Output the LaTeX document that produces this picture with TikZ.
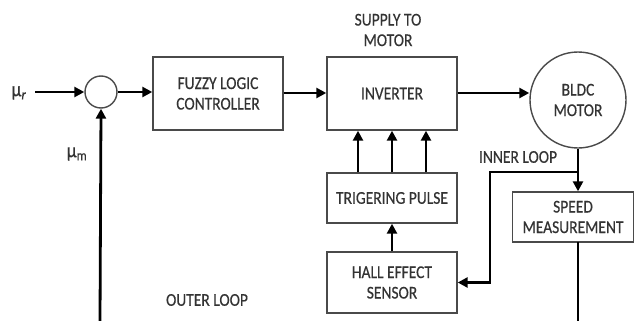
\documentclass[tikz,border=0pt]{standalone}
\usepackage{fontspec}
\setmainfont{Carlito}[FakeStretch=0.86,FakeBold=0.4]
\usetikzlibrary{arrows.meta}
\definecolor{txt}{HTML}{333333}
\definecolor{frame}{HTML}{4A4A4A}
\begin{document}
\begin{tikzpicture}[x=1pt,y=-1pt,
  every node/.style={text=txt,font=\fontsize{18}{20.5}\selectfont,align=center,inner sep=0pt},
  blk/.style={draw=frame,line width=1.4pt,rectangle,fill=white},
  circ/.style={draw=frame,line width=1.4pt,circle},
  greek/.style={font=\fontsize{21}{22}\selectfont},
  con/.style={line width=2.8pt,-{Triangle[length=10pt,width=10pt]}},
  ln/.style={line width=2.8pt}]
\useasboundingbox[fill=white] (0,0) rectangle (634,321);
% blocks
\node[circ,minimum size=32pt] (sum) at (101,92) {};
\node[blk,minimum width=130pt,minimum height=73pt] (flc) at (218,93.5) {FUZZY LOGIC\\CONTROLLER};
\node[blk,minimum width=130pt,minimum height=73pt] (inv) at (392,93.5) {INVERTER};
\node[circ,minimum size=96pt] (bldc) at (578,100) {BLDC\\MOTOR};
\node[blk,minimum width=130pt,minimum height=50pt] (trig) at (392,198) {TRIGERING PULSE};
\node[blk,minimum width=130pt,minimum height=61pt] (hall) at (392,282.5) {HALL EFFECT\\SENSOR};
\node[blk,minimum width=121pt,minimum height=50pt] (speed) at (573,217) {SPEED\\MEASUREMENT};
% labels
\node[greek] (mur) at (19,93) {μ\textsubscript{\textit{r}}};
\node[greek] (mum) at (77,154) {μ\textsubscript{m}};
\node (sup) at (388,30) {SUPPLY TO\\MOTOR};
\node (inner) at (518,157) {INNER LOOP};
\node (outer) at (207,300) {OUTER LOOP};
% coordinates
\coordinate (in0) at (35,92);
\coordinate (ob) at (100,321);
\coordinate (j) at (578,172);
\coordinate (jl) at (490,172);
\coordinate (jd) at (490,282.5);
\coordinate (sb) at (578,242);
\coordinate (se) at (578,321);
% connectors
\draw[con] (in0) -- (sum.west);
\draw[con] (sum.east) -- (sum.east -| flc.west);
\draw[con] (flc.east |- 0,93) -- (inv.west |- 0,93);
\draw[con] (inv.east |- 0,93) -- (bldc.west |- 0,93);
\draw[con] (ob) -- (sum.south);
\draw[con] (bldc.south) -- (bldc.south |- speed.north);
\draw[con] (j) -- (jl) -- (jd) -- (hall.east);
\draw[ln] (sb) -- (se);
\draw[con] (hall.north) -- (trig.south);
\draw[con] (trig.north -| 358,0) -- (inv.south -| 358,0);
\draw[con] (trig.north) -- (inv.south);
\draw[con] (trig.north -| 426,0) -- (inv.south -| 426,0);
\end{tikzpicture}
\end{document}
